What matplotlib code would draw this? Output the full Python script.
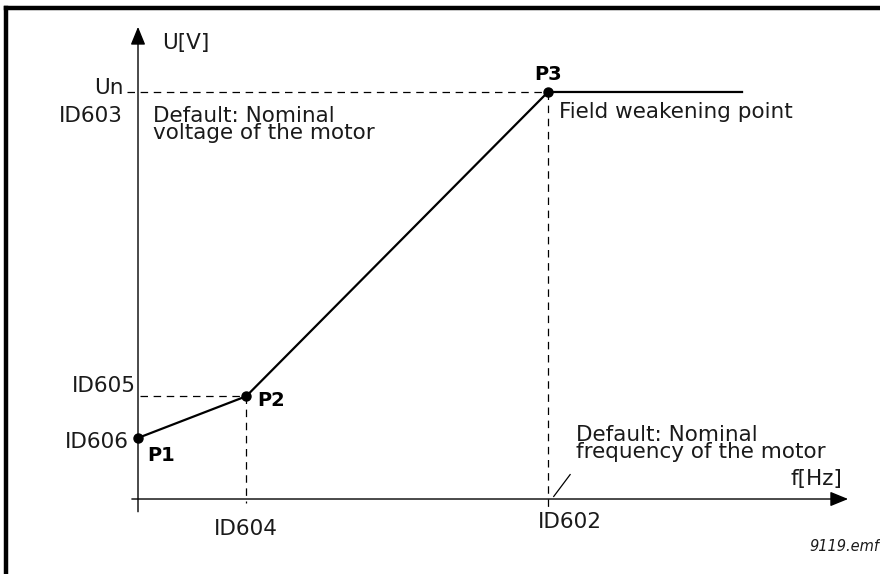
import matplotlib
matplotlib.use("Agg")
import matplotlib.pyplot as plt
from matplotlib.lines import Line2D

# V/f curve break points (frequency in Hz, voltage in V)
point_names = ["P1", "P2", "P3"]
freq = [0.0, 13.2, 50.0]
volt = [60.0, 101.0, 400.0]
freq_end = 73.8           # flat section after field weakening point
freq_axis_end = 86.6      # tip of the f-axis arrow
volt_axis_end = 464.0     # tip of the U-axis arrow

plt.rcParams["font.family"] = ["DejaVu Sans"]

fig = plt.figure(figsize=(8.8, 5.74), dpi=100)
ax = fig.add_axes([0, 0, 1, 1])
ax.set_xlim(-16.83, 90.49)
ax.set_ylim(-73.7, 490.4)
ax.axis("off")

# frame on the left and top edges
fig.add_artist(Line2D([0.0063, 0.0063], [0.0, 0.986], transform=fig.transFigure,
                      color="black", lw=3.2, solid_capstyle="projecting"))
fig.add_artist(Line2D([0.0063, 1.0], [0.986, 0.986], transform=fig.transFigure,
                      color="black", lw=3.2, solid_capstyle="projecting"))

# axes with arrows
ax.annotate("", xy=(freq_axis_end, 0), xytext=(-0.75, 0),
            arrowprops=dict(arrowstyle="-|>,head_length=1.1,head_width=0.45",
                            color="black", lw=1.0, shrinkA=0, shrinkB=0))
ax.annotate("", xy=(0, volt_axis_end), xytext=(0, -12.5),
            arrowprops=dict(arrowstyle="-|>,head_length=1.1,head_width=0.45",
                            color="black", lw=1.0, shrinkA=0, shrinkB=0))

dash = dict(color="black", lw=0.9, linestyle=(0, (6, 4.5)))
# guide lines
ax.plot([-1.3, freq[2]], [volt[2], volt[2]], **dash)
ax.plot([0.2, freq[1]], [volt[1], volt[1]], **dash)
ax.plot([freq[1], freq[1]], [volt[1], -4], **dash)
ax.plot([freq[2], freq[2]], [volt[2], -11], **dash)

# V/f curve
ax.plot(freq + [freq_end], volt + [volt[2]], color="black", lw=1.6,
        solid_capstyle="butt", zorder=3)
ax.plot(freq, volt, "o", color="black", markersize=6.5, zorder=4)

fs = 15.5
pfs = 14
txt = "#1a1a1a"
# point labels
ax.text(freq[0] + 1.1, volt[0] - 8, point_names[0], fontsize=pfs, fontweight="bold",
        ha="left", va="top")
ax.text(freq[1] + 1.3, volt[1] - 4, point_names[1], fontsize=pfs, fontweight="bold",
        ha="left", va="center")
ax.text(freq[2], volt[2] + 8, point_names[2], fontsize=pfs, fontweight="bold",
        ha="center", va="bottom")

# axis titles
ax.text(3.0, 448, "U[V]", fontsize=fs, ha="left", va="center", color=txt)
ax.text(85.9, 20, "f[Hz]", fontsize=fs, ha="right", va="center", color=txt)

# y-side labels
ax.text(-1.8, 404, "Un", fontsize=fs, ha="right", va="center", color=txt)
ax.text(-1.8, 376, "ID603", fontsize=fs, ha="right", va="center", color=txt)
ax.text(-0.2, 111, "ID605", fontsize=fs, ha="right", va="center", color=txt)
ax.text(-1.1, 56, "ID606", fontsize=fs, ha="right", va="center", color=txt)

# x-side labels
ax.text(freq[1], -29, "ID604", fontsize=fs, ha="center", va="center", color=txt)
ax.text(48.8, -23, "ID602", fontsize=fs, ha="left", va="center", color=txt)

# notes
ax.text(1.8, 386, "Default: Nominal\nvoltage of the motor", fontsize=fs,
        ha="left", va="top", linespacing=0.8, color=txt)
ax.text(51.4, 380, "Field weakening point", fontsize=fs, ha="left", va="center",
        color=txt)
ax.text(53.4, 73, "Default: Nominal\nfrequency of the motor", fontsize=fs,
        ha="left", va="top", linespacing=0.8, color=txt)
ax.plot([50.7, 52.7], [2.5, 24], color="black", lw=0.9)

ax.text(90.4, -47, "9119.emf", fontsize=10.5, style="italic", ha="right",
        va="center", color=txt)

fig.savefig("out.png", dpi=100)
